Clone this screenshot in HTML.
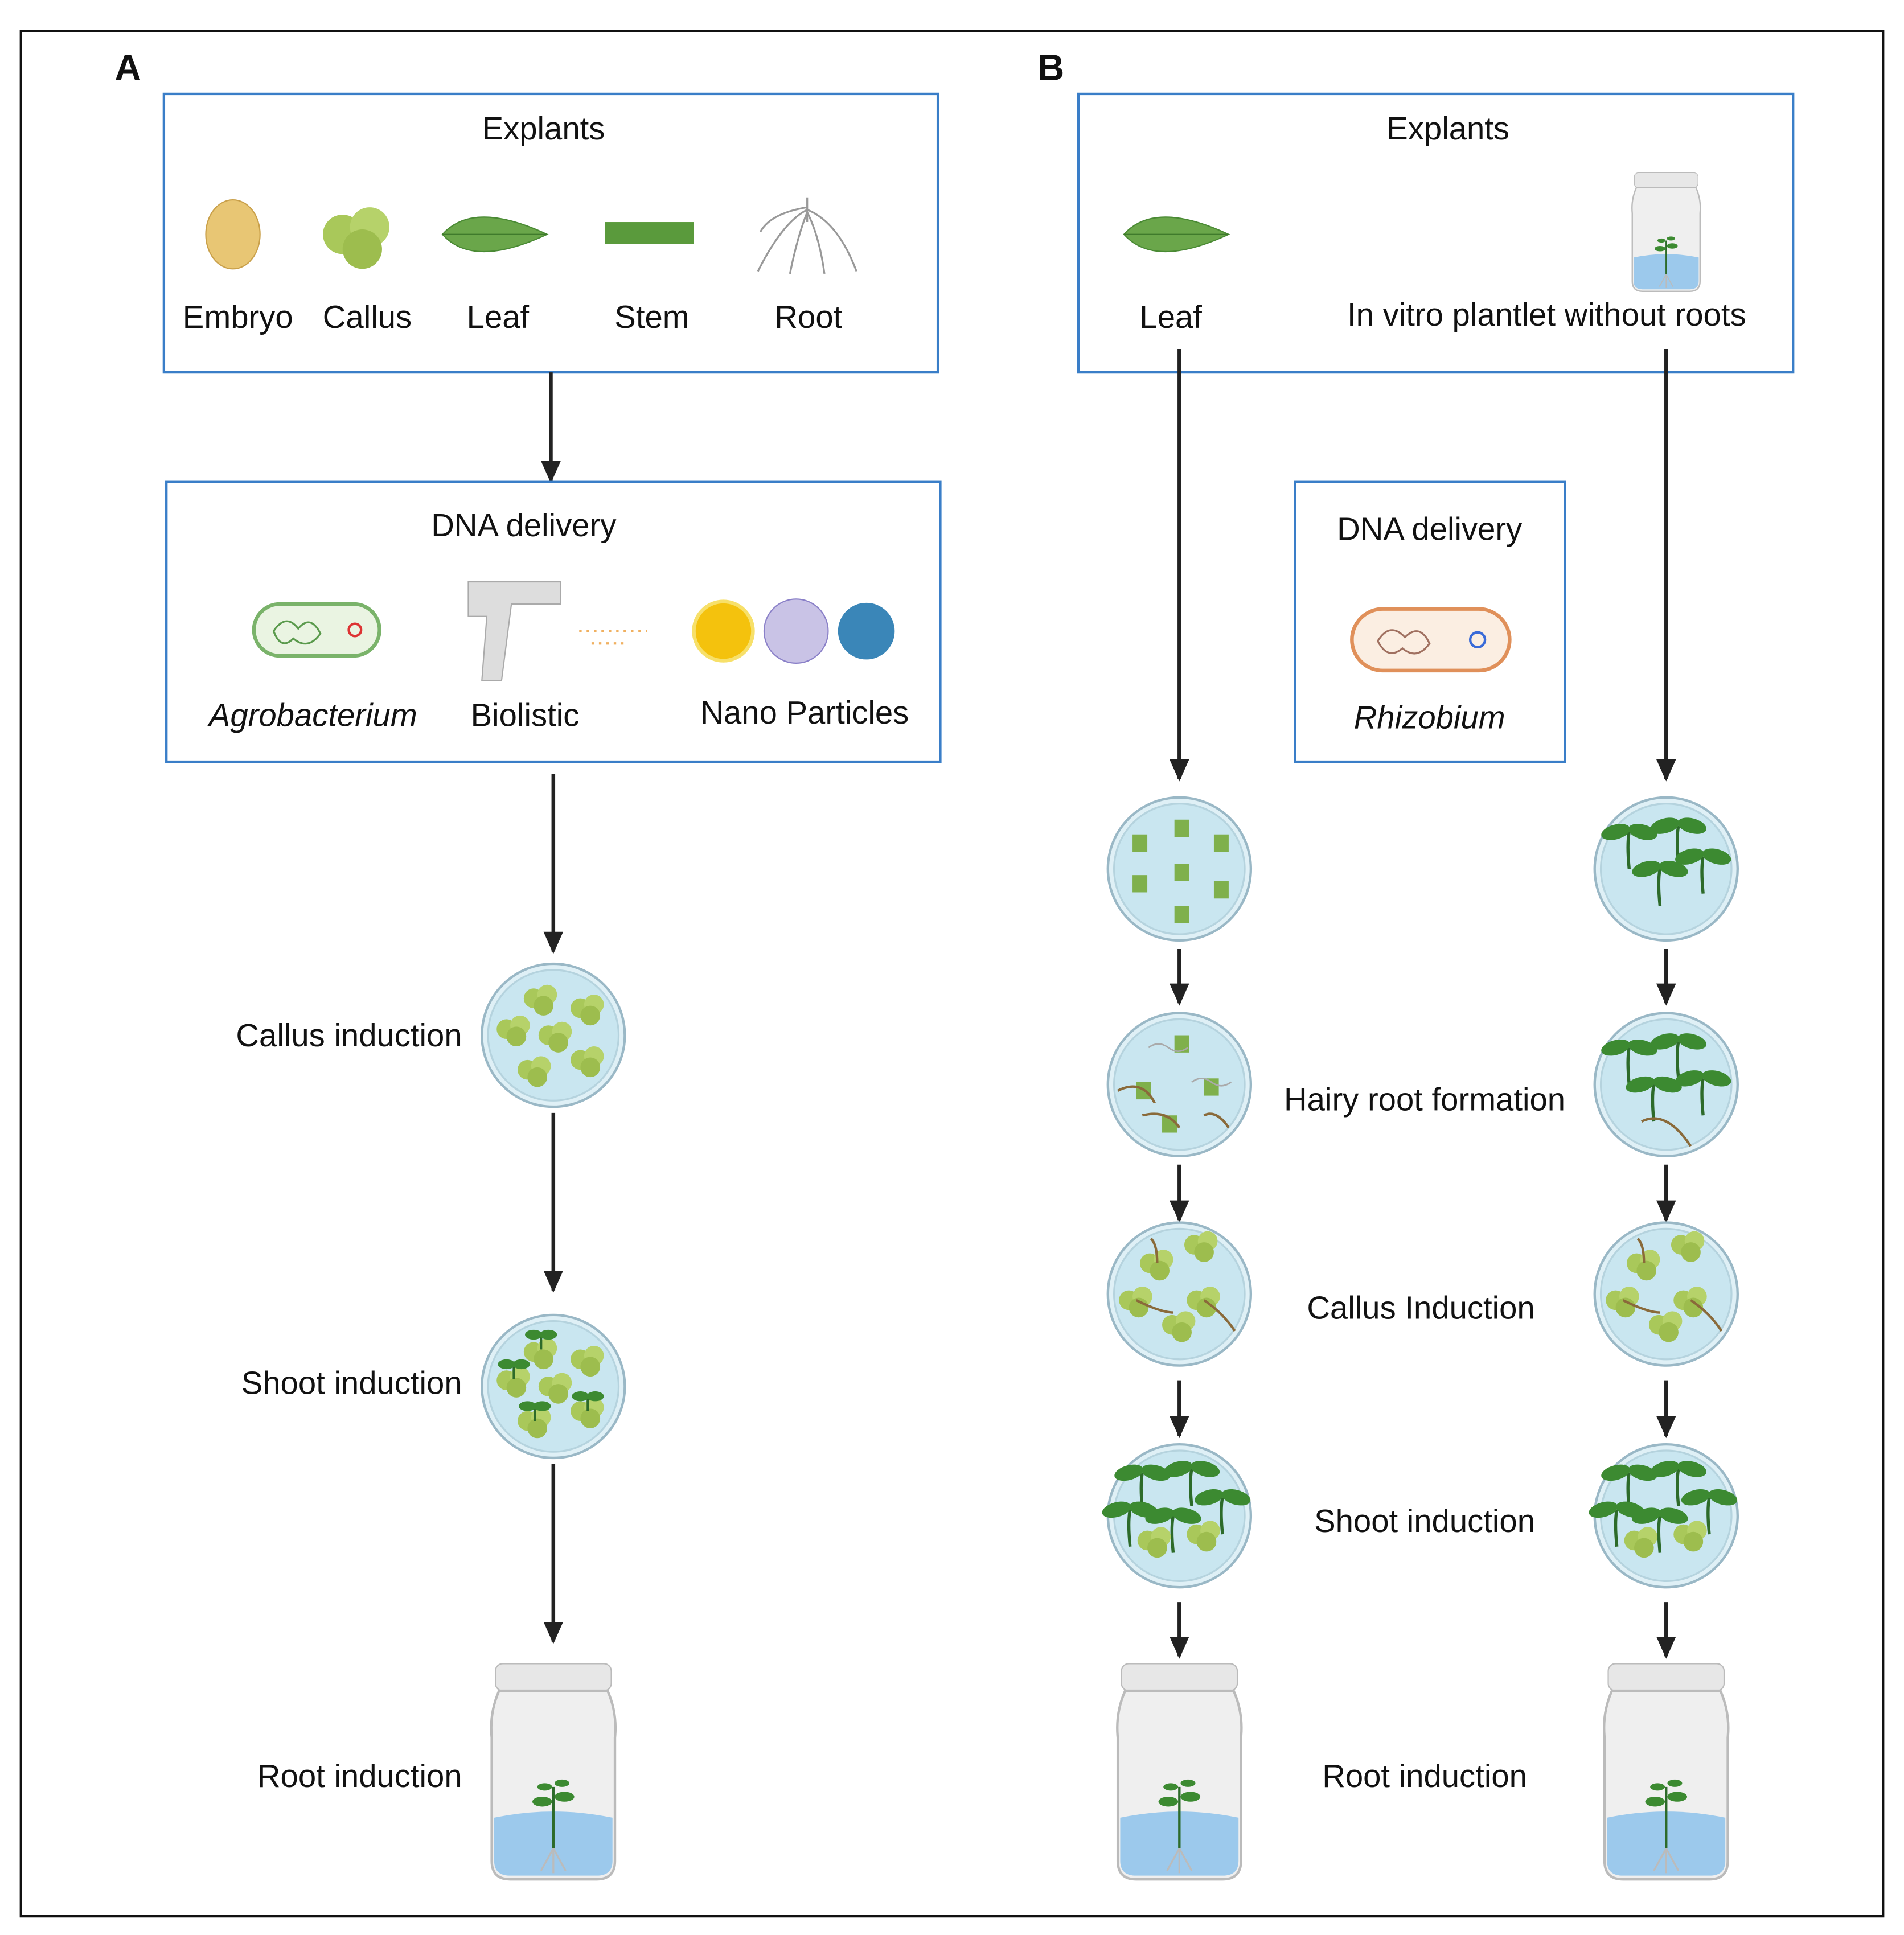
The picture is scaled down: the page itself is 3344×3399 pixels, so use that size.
<!DOCTYPE html>
<html><head><meta charset="utf-8"><style>html,body{margin:0;padding:0;background:#fff}svg{display:block}text{font-family:"Liberation Sans",sans-serif;fill:#111}</style></head><body>
<svg width="3344" height="3399" viewBox="0 0 1545 1570" xmlns="http://www.w3.org/2000/svg">
<defs>
<marker id="ah" markerWidth="18" markerHeight="16" refX="16" refY="8" orient="auto" markerUnits="userSpaceOnUse"><path d="M0,0 L18,8 L0,16 z" fill="#222"/></marker>
<g id="petri"><circle r="58" fill="#dff0f6" stroke="#9ab8c6" stroke-width="2"/><circle r="53" fill="#c9e6f0" stroke="#b5d3de" stroke-width="1.5"/></g>
<g id="cal"><circle cx="-6" cy="0" r="8" fill="#a9c85a"/><circle cx="5" cy="-3" r="8" fill="#b6d26a"/><circle cx="2" cy="6" r="8" fill="#9dbd4e"/></g>
<g id="sprout"><path d="M0,30 Q-2,10 0,0" stroke="#2d6b2a" stroke-width="2.5" fill="none"/><ellipse cx="-11" cy="0" rx="12" ry="6" fill="#3c8a31" transform="rotate(-15 -11 0)"/><ellipse cx="11" cy="0" rx="12" ry="6" fill="#3c8a31" transform="rotate(15 11 0)"/></g>
<g id="ss"><path d="M0,12 V0" stroke="#2d6b2a" stroke-width="2"/><ellipse cx="-6" cy="0" rx="7" ry="4" fill="#3c8a31"/><ellipse cx="6" cy="0" rx="7" ry="4" fill="#3c8a31"/></g>
<g id="jar"><rect x="-47" y="0" width="94" height="22" rx="6" fill="#e7e7e7" stroke="#bbb"/><path d="M-44,22 Q-52,40 -50,60 L-50,160 Q-50,175 -35,175 L35,175 Q50,175 50,160 L50,60 Q52,40 44,22 z" fill="#efefef" stroke="#bbb" stroke-width="2"/><path d="M-48,125 Q0,115 48,125 L48,160 Q48,172 35,172 L-35,172 Q-48,172 -48,160 z" fill="#9cc9ec"/><path d="M0,150 L0,100" stroke="#2d6b2a" stroke-width="2"/><ellipse cx="-9" cy="112" rx="8" ry="4" fill="#3c8a31"/><ellipse cx="9" cy="108" rx="8" ry="4" fill="#3c8a31"/><ellipse cx="-7" cy="100" rx="6" ry="3" fill="#3c8a31"/><ellipse cx="7" cy="97" rx="6" ry="3" fill="#3c8a31"/><path d="M0,150 l-10,18 M0,150 l10,18 M0,150 v20" stroke="#bbb" stroke-width="1.5"/></g>
<g id="leaf"><path d="M-45,0 Q-20,-28 40,0 Q-20,28 -45,0 z" fill="#6aa64a" stroke="#4a8a34"/><path d="M-45,0 L40,0" stroke="#3f7a2c"/></g>
</defs>
<rect x="17" y="25" width="1511" height="1530" fill="none" stroke="#111" stroke-width="2"/>
<text x="93" y="65" font-size="30" font-weight="bold">A</text>
<text x="842" y="65" font-size="30" font-weight="bold">B</text>
<g font-size="26" text-anchor="middle">
<rect x="133" y="76" width="628" height="226" fill="none" stroke="#3a7ec8" stroke-width="2"/>
<text x="441" y="113">Explants</text>
<ellipse cx="189" cy="190" rx="22" ry="28" fill="#e8c674" stroke="#c9a04a"/>
<g transform="translate(290,190) scale(2)"><use href="#cal"/></g>
<g transform="translate(404,190)"><use href="#leaf"/></g>
<rect x="491" y="180" width="72" height="18" fill="#5a9a3c"/>
<path d="M655,160 v20 M655,170 q-20,10 -40,50 M655,170 q25,10 40,50 M655,172 q-8,20 -14,50 M655,172 q10,20 14,50 M655,168 q-30,5 -38,20" stroke="#999" fill="none" stroke-width="1.5"/>
<text x="193" y="266">Embryo</text><text x="298" y="266">Callus</text><text x="404" y="266">Leaf</text><text x="529" y="266">Stem</text><text x="656" y="266">Root</text>
<line x1="447" y1="302" x2="447" y2="390" stroke="#222" stroke-width="3" marker-end="url(#ah)"/>
<rect x="135" y="391" width="628" height="227" fill="none" stroke="#3a7ec8" stroke-width="2"/>
<text x="425" y="435">DNA delivery</text>
<rect x="206" y="490" width="102" height="42" rx="21" fill="#eaf4e2" stroke="#7ab36a" stroke-width="3"/>
<circle cx="288" cy="511" r="5" fill="none" stroke="#d33" stroke-width="2"/>
<path d="M222,512 q10,-15 20,-2 q10,-12 18,4 q-10,14 -22,4 q-10,10 -16,-6z" fill="none" stroke="#5a9a4c" stroke-width="1.5"/>
<path d="M380,472 h75 v18 h-40 l-8,62 h-16 l4,-52 h-15 z" fill="#ddd" stroke="#aaa"/>
<path d="M470,512 h55 M480,522 h30" stroke="#f0b060" stroke-width="2" stroke-dasharray="2 4"/>
<circle cx="587" cy="512" r="24" fill="#f4c20d" stroke="#f7e06a" stroke-width="3"/>
<circle cx="646" cy="512" r="26" fill="#c9c3e6" stroke="#8a80c8"/>
<circle cx="703" cy="512" r="23" fill="#3a86b8"/>
<text x="254" y="589" font-style="italic">Agrobacterium</text><text x="426" y="589">Biolistic</text><text x="653" y="587">Nano Particles</text>
<line x1="449" y1="628" x2="449" y2="772" stroke="#222" stroke-width="3" marker-end="url(#ah)"/>
<g transform="translate(449,840)"><use href="#petri"/><use href="#cal" x="-10" y="-30"/><use href="#cal" x="28" y="-22"/><use href="#cal" x="-32" y="-5"/><use href="#cal" x="2" y="0"/><use href="#cal" x="-15" y="28"/><use href="#cal" x="28" y="20"/></g>
<text x="375" y="849" text-anchor="end">Callus induction</text>
<line x1="449" y1="903" x2="449" y2="1047" stroke="#222" stroke-width="3" marker-end="url(#ah)"/>
<g transform="translate(449,1125)"><use href="#petri"/><use href="#cal" x="-10" y="-28"/><use href="#cal" x="28" y="-22"/><use href="#cal" x="-32" y="-5"/><use href="#cal" x="2" y="0"/><use href="#cal" x="-15" y="28"/><use href="#cal" x="28" y="20"/><use href="#ss" x="-10" y="-42"/><use href="#ss" x="-32" y="-18"/><use href="#ss" x="-15" y="16"/><use href="#ss" x="28" y="8"/></g>
<text x="375" y="1131" text-anchor="end">Shoot induction</text>
<line x1="449" y1="1188" x2="449" y2="1332" stroke="#222" stroke-width="3" marker-end="url(#ah)"/>
<g transform="translate(449,1350)"><use href="#jar"/></g>
<text x="375" y="1450" text-anchor="end">Root induction</text>

<rect x="875" y="76" width="580" height="226" fill="none" stroke="#3a7ec8" stroke-width="2"/>
<text x="1175" y="113">Explants</text>
<g transform="translate(957,190)"><use href="#leaf"/></g>
<g transform="translate(1352,140) scale(0.55)"><use href="#jar"/></g>
<text x="950" y="266">Leaf</text><text x="1255" y="264">In vitro plantlet without roots</text>
<line x1="957" y1="283" x2="957" y2="632" stroke="#222" stroke-width="3" marker-end="url(#ah)"/>
<line x1="1352" y1="283" x2="1352" y2="632" stroke="#222" stroke-width="3" marker-end="url(#ah)"/>
<rect x="1051" y="391" width="219" height="227" fill="none" stroke="#3a7ec8" stroke-width="2"/>
<text x="1160" y="438">DNA delivery</text>
<rect x="1097" y="494" width="128" height="50" rx="25" fill="#fbeee2" stroke="#e0905a" stroke-width="3"/>
<circle cx="1199" cy="519" r="6" fill="none" stroke="#3a6bd8" stroke-width="2"/>
<path d="M1118,520 q10,-16 22,-3 q12,-12 20,5 q-10,14 -22,4 q-12,10 -20,-6z" fill="none" stroke="#a07060" stroke-width="1.5"/>
<text x="1160" y="591" font-style="italic">Rhizobium</text>
<g fill="#7fb04c">
<g transform="translate(957,705)"><use href="#petri"/><rect x="-38" y="-28" width="12" height="14"/><rect x="-4" y="-40" width="12" height="14"/><rect x="28" y="-28" width="12" height="14"/><rect x="-38" y="5" width="12" height="14"/><rect x="-4" y="-4" width="12" height="14"/><rect x="28" y="10" width="12" height="14"/><rect x="-4" y="30" width="12" height="14"/></g>
<g transform="translate(957,880)"><use href="#petri"/><rect x="-4" y="-40" width="12" height="14"/><rect x="-35" y="-2" width="12" height="14"/><rect x="20" y="-5" width="12" height="14"/><rect x="-14" y="25" width="12" height="14"/><path d="M-50,5 q20,-10 30,10 M-30,25 q20,-5 30,10 M20,25 q10,-5 20,10" stroke="#8a6a3a" stroke-width="2" fill="none"/><path d="M-25,-30 q8,-6 16,0 q8,6 16,0 M10,-2 q8,-6 16,0 q8,6 16,0" stroke="#aaa" stroke-width="1.2" fill="none"/></g>
</g>
<g transform="translate(1352,705)"><use href="#petri"/><use href="#sprout" x="-30" y="-30"/><use href="#sprout" x="10" y="-35"/><use href="#sprout" x="-5" y="0"/><use href="#sprout" x="30" y="-10"/></g>
<g transform="translate(1352,880)"><use href="#petri"/><use href="#sprout" x="-30" y="-30"/><use href="#sprout" x="10" y="-35"/><use href="#sprout" x="-10" y="0"/><use href="#sprout" x="30" y="-5"/><path d="M-20,30 q20,-10 40,20" stroke="#8a6a3a" stroke-width="2" fill="none"/></g>
<line x1="957" y1="770" x2="957" y2="814" stroke="#222" stroke-width="3" marker-end="url(#ah)"/>
<line x1="1352" y1="770" x2="1352" y2="814" stroke="#222" stroke-width="3" marker-end="url(#ah)"/>
<text x="1156" y="901">Hairy root formation</text>
<line x1="957" y1="945" x2="957" y2="990" stroke="#222" stroke-width="3" marker-end="url(#ah)"/>
<line x1="1352" y1="945" x2="1352" y2="990" stroke="#222" stroke-width="3" marker-end="url(#ah)"/>
<g transform="translate(957,1050)"><use href="#petri"/><use href="#cal" x="-18" y="-25"/><use href="#cal" x="18" y="-40"/><use href="#cal" x="-35" y="5"/><use href="#cal" x="20" y="5"/><use href="#cal" x="0" y="25"/><path d="M-18,-25 q0,-15 -5,-20 M-35,5 q20,10 30,10 M20,5 q15,10 25,25" stroke="#8a6a3a" stroke-width="2" fill="none"/></g>
<g transform="translate(1352,1050)"><use href="#petri"/><use href="#cal" x="-18" y="-25"/><use href="#cal" x="18" y="-40"/><use href="#cal" x="-35" y="5"/><use href="#cal" x="20" y="5"/><use href="#cal" x="0" y="25"/><path d="M-18,-25 q0,-15 -5,-20 M-35,5 q20,10 30,10 M20,5 q15,10 25,25" stroke="#8a6a3a" stroke-width="2" fill="none"/></g>
<text x="1153" y="1070">Callus Induction</text>
<line x1="957" y1="1120" x2="957" y2="1165" stroke="#222" stroke-width="3" marker-end="url(#ah)"/>
<line x1="1352" y1="1120" x2="1352" y2="1165" stroke="#222" stroke-width="3" marker-end="url(#ah)"/>
<g transform="translate(957,1230)"><use href="#petri"/><use href="#sprout" x="-30" y="-35"/><use href="#sprout" x="10" y="-38"/><use href="#sprout" x="-5" y="0"/><use href="#sprout" x="35" y="-15"/><use href="#sprout" x="-40" y="-5"/><use href="#cal" x="20" y="15"/><use href="#cal" x="-20" y="20"/></g>
<g transform="translate(1352,1230)"><use href="#petri"/><use href="#sprout" x="-30" y="-35"/><use href="#sprout" x="10" y="-38"/><use href="#sprout" x="-5" y="0"/><use href="#sprout" x="35" y="-15"/><use href="#sprout" x="-40" y="-5"/><use href="#cal" x="20" y="15"/><use href="#cal" x="-20" y="20"/></g>
<text x="1156" y="1243">Shoot induction</text>
<line x1="957" y1="1300" x2="957" y2="1344" stroke="#222" stroke-width="3" marker-end="url(#ah)"/>
<line x1="1352" y1="1300" x2="1352" y2="1344" stroke="#222" stroke-width="3" marker-end="url(#ah)"/>
<g transform="translate(957,1350)"><use href="#jar"/></g>
<g transform="translate(1352,1350)"><use href="#jar"/></g>
<text x="1156" y="1450">Root induction</text>
</g>
</svg>
</body></html>
